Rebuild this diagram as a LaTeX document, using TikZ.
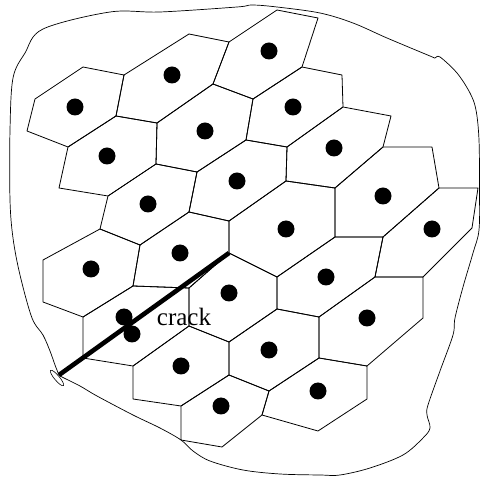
\documentclass[tikz,border=0pt]{standalone}
\usepackage{fontspec}
\setmainfont{Liberation Serif}
\usetikzlibrary{shapes.geometric}

\begin{document}
\begin{tikzpicture}[
    x=1pt, y=-1pt,
    cell/.style={draw, line width=0.8pt, line join=round},
    grain/.style={circle, fill, inner sep=0pt, minimum size=17pt},
    crackline/.style={line width=4.6pt},
    tipmark/.style={ellipse, draw, line width=0.6pt, inner sep=0pt, minimum width=20pt, minimum height=5pt, rotate=-50}
]
\useasboundingbox (0,0) rectangle (480,478);

% mesh vertices
\foreach \x/\y [count=\i] in {83/67, 124/75, 116/116, 68/147, 27/131, 35/99, 189/34, 229/42,
    213/84, 157/123, 277/10, 318/18, 302/67, 253/99, 342/75, 343/107, 287/147, 246/140,
    391/116, 383/147, 335/188, 286/181, 432/147, 439/188, 383/237, 335/237, 478/188, 472/228,
    423/277, 375/277, 156/164, 108/196, 59/188, 197/172, 189/212, 140/245, 100/229, 189/288,
    229/221, 229/253, 133/286, 83/317, 43/302, 43/260, 277/277, 319/317, 277/309, 423/318,
    367/366, 319/358, 229/342, 189/326, 269/391, 229/375, 367/399, 318/431, 262/415, 222/447,
    181/440, 181/406, 133/399, 133/366, 83/358}
    \coordinate (p\i) at (\x,\y);
\coordinate (tip) at (59,375);

% cells
\foreach \a/\b/\c/\d/\e/\f in {1/2/3/4/5/6, 2/7/8/9/10/3, 8/11/12/13/14/9, 13/15/16/17/18/14,
    16/19/20/21/22/17, 20/23/24/25/26/21, 24/27/28/29/30/25, 3/10/31/32/33/4,
    10/9/14/18/34/31, 31/34/35/36/37/32, 18/17/22/39/35/34, 36/35/39/40/38/41,
    37/36/41/42/43/44, 22/21/26/45/40/39, 26/25/30/46/47/45, 30/29/48/49/50/46,
    38/40/45/47/51/52, 51/47/46/50/53/54, 50/49/55/56/57/53, 54/53/57/58/59/60,
    52/51/54/60/61/62, 41/38/52/62/63/42}
    \draw[cell] (p\a) -- (p\b) -- (p\c) -- (p\d) -- (p\e) -- (p\f) -- cycle;

% outline of the body
\draw[line width=0.7pt] plot[smooth, tension=0.55] coordinates {(tip) (62,377) (80,386) (97,396)
    (133,415) (160,428) (p59) (193,451) (210,461) (243,470) (280,474) (320,475) (340,475)
    (370,468) (403,455) (423,438) (430,428) (427,415) (428,405) (440,371) (453,335) (455,318)
    (463,287) (473,253) (479,230) (479.5,190) (479,140) (476,110) (470,93) (457,73) (440,57)
    (435,58) (430,56) (387,38) (353,23) (320,13) (277,7) (252,5) (237,7) (160,12) (110,12)
    (43,29) (25,53) (13,78) (10,130) (10,200) (13,238) (20,275) (32,318) (43,335) (50,351)
    (55,365) (tip)};

% grains
\foreach \x/\y [count=\i] in {75/107, 172/75, 269/51, 107/156, 205/131, 293/107, 148/204,
    237/181, 334/148, 383/196, 180/253, 286/229, 432/229, 91/269, 229/293, 326/277, 367/318,
    269/350, 181/366, 318/391, 221/406, 124/317, 132/334}
    \node[grain] (g\i) at (\x,\y) {};

% crack
\draw[crackline] (p40) -- (tip);
\node[tipmark] (mark) at (57,378) {};
\node[anchor=base, inner sep=0pt, font=\fontsize{25}{25}\selectfont] (label) at (184,326) {crack};
\end{tikzpicture}
\end{document}
